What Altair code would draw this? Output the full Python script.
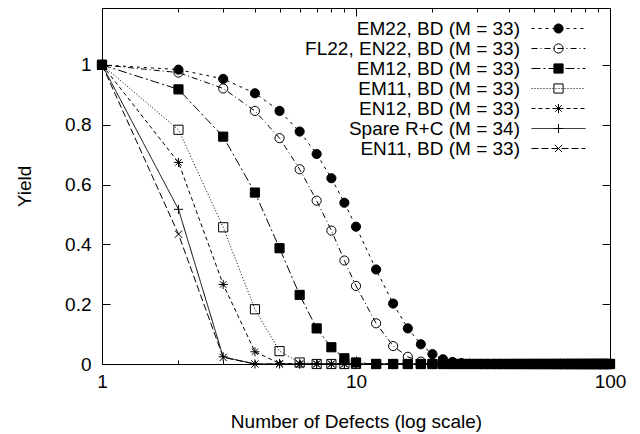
import altair as alt
import pandas as pd

# ---------------- data ----------------
x_defects = list(range(1, 11)) + list(range(12, 101, 2))

series_names = [
    "EM22, BD (M = 33)",
    "FL22, EN22, BD (M = 33)",
    "EM12, BD (M = 33)",
    "EM11, BD (M = 33)",
    "EN12, BD (M = 33)",
    "Spare R+C (M = 34)",
    "EN11, BD (M = 33)",
]

yield_em22 = [1.0, 0.984, 0.953, 0.905, 0.846, 0.777, 0.702, 0.621, 0.539, 0.459,
              0.316, 0.202, 0.119, 0.066, 0.033, 0.016, 0.007, 0.003, 0.001] + [0.0] * 36
yield_fl22 = [1.0, 0.974, 0.921, 0.846, 0.755, 0.651, 0.546, 0.446, 0.346, 0.261,
              0.136, 0.060, 0.024, 0.008, 0.002] + [0.0] * 40
yield_em12 = [1.0, 0.918, 0.760, 0.573, 0.387, 0.231, 0.119, 0.056, 0.019, 0.005] + [0.0] * 45
yield_em11 = [1.0, 0.783, 0.457, 0.183, 0.043, 0.005] + [0.0] * 49
yield_en12 = [1.0, 0.674, 0.266, 0.041, 0.002] + [0.0] * 50
yield_spare = [1.0, 0.517, 0.024] + [0.0] * 52
yield_en11 = [1.0, 0.434, 0.022] + [0.0] * 52

all_yields = [yield_em22, yield_fl22, yield_em12, yield_em11, yield_en12, yield_spare, yield_en11]

x_tick_values = [1, 2, 3, 4, 5, 6, 7, 8, 9, 10, 20, 30, 40, 50, 60, 70, 80, 90, 100]
y_tick_values = [0, 0.2, 0.4, 0.6, 0.8, 1]

# ---------------- styles ----------------
dash_styles = [[3, 4], [6, 3, 1, 3], [9, 3, 2, 3], [1, 2], [4, 3], [1, 0], [7, 3]]
plus_path = "M-1,0L1,0M0,-1L0,1"
cross_path = "M-0.8,-0.8L0.8,0.8M-0.8,0.8L0.8,-0.8"
star_path = "M-1,0L1,0M0,-1L0,1M-0.7,-0.7L0.7,0.7M-0.7,0.7L0.7,-0.7"
marker_shapes = ["circle", "circle", "square", "square", star_path, plus_path, cross_path]
marker_fills = ["black", "transparent", "black", "transparent", "transparent", "transparent", "transparent"]
marker_strokes = ["black"] * 7

FONT = "Liberation Sans"
FS = 19
SYM = 84
half_unit = (SYM ** 0.5) / 2
line_sample = "M{a:.3f},0L{b:.3f},0".format(a=-27 / half_unit, b=27 / half_unit)

rows = []
for name, ys in zip(series_names, all_yields):
    for xv, yv in zip(x_defects, ys):
        rows.append({"x": xv, "y": yv, "series": name, "series_m": name})
df = pd.DataFrame(rows)

xscale = alt.Scale(type="log", domain=[1, 100], nice=False)
yscale = alt.Scale(domain=[0, 1.19], nice=False, zero=False)

x_tick_expr = {"expr": "indexof([1, 10, 100], datum.value) >= 0 ? -8 : -4"}
y_tick_expr = {"expr": "-8"}

axis_common = dict(grid=False, domain=False, tickColor="black", tickWidth=1,
                   labelFont=FONT, labelFontSize=FS, labelColor="black",
                   titleFont=FONT, titleFontSize=FS, titleColor="black",
                   titleFontWeight="normal", labelOverlap=False)

x_bottom = alt.X("x:Q", scale=xscale, axis=alt.Axis(
    orient="bottom", values=x_tick_values, format="d",
    labelExpr="indexof([1, 10, 100], datum.value) >= 0 ? datum.label : ''",
    tickSize=x_tick_expr, labelPadding=16, labelFlush=False,
    title="Number of Defects (log scale)", titleY=57, titleBaseline="middle",
    **axis_common))
y_left = alt.Y("y:Q", scale=yscale, axis=alt.Axis(
    orient="left", values=y_tick_values, format="~g",
    tickSize=y_tick_expr, labelPadding=19,
    title="Yield", titleX=-78, titleY=178, titleAngle=-90,
    titleBaseline="middle", titleAlign="center", **axis_common))
x_top = alt.X("x:Q", scale=xscale, axis=alt.Axis(
    orient="top", values=x_tick_values, labels=False, title=None,
    tickSize=x_tick_expr, **axis_common))
y_right = alt.Y("y:Q", scale=yscale, axis=alt.Axis(
    orient="right", values=y_tick_values, labels=False, title=None,
    tickSize=y_tick_expr, **axis_common))

LX = 447
LY = 11
legend_common = dict(orient="none", legendX=LX, legendY=LY, title=None,
                     labelFont=FONT, labelFontSize=FS, labelColor="black",
                     labelLimit=0, padding=0, rowPadding={"expr": "-3"},
                     symbolSize=SYM,
                     symbolStrokeWidth=1, symbolStrokeColor="black",
                     symbolOpacity=1, labelAlign="right",
                     labelOffset={"expr": "-48"})

lines = alt.Chart(df).mark_line(color="black", strokeWidth=1).encode(
    x=x_bottom,
    y=y_left,
    strokeDash=alt.StrokeDash("series:N", sort=series_names,
                              scale=alt.Scale(range=dash_styles),
                              legend=alt.Legend(symbolType=line_sample, **legend_common)),
)

marker_legend = alt.Legend(labelOpacity=0, **legend_common)
points = alt.Chart(df).mark_point(filled=True, strokeWidth=1,
                                  size=SYM, opacity=1).encode(
    x=x_top,
    y=y_right,
    shape=alt.Shape("series_m:N",
                    scale=alt.Scale(domain=series_names, range=marker_shapes),
                    legend=marker_legend),
    fill=alt.Fill("series_m:N",
                  scale=alt.Scale(domain=series_names, range=marker_fills),
                  legend=marker_legend),
    stroke=alt.Stroke("series_m:N",
                      scale=alt.Scale(domain=series_names, range=marker_strokes),
                      legend=marker_legend),
)

chart = alt.layer(lines, points).resolve_axis(
    x="independent", y="independent"
).properties(
    width=508, height=356,
    padding={"left": 94, "top": 0, "right": 22, "bottom": 70},
    autosize=alt.AutoSizeParams(type="none"),
).configure_view(stroke="black", strokeWidth=1)

chart.save("out.html", embed_options={"renderer": "svg", "actions": False})
